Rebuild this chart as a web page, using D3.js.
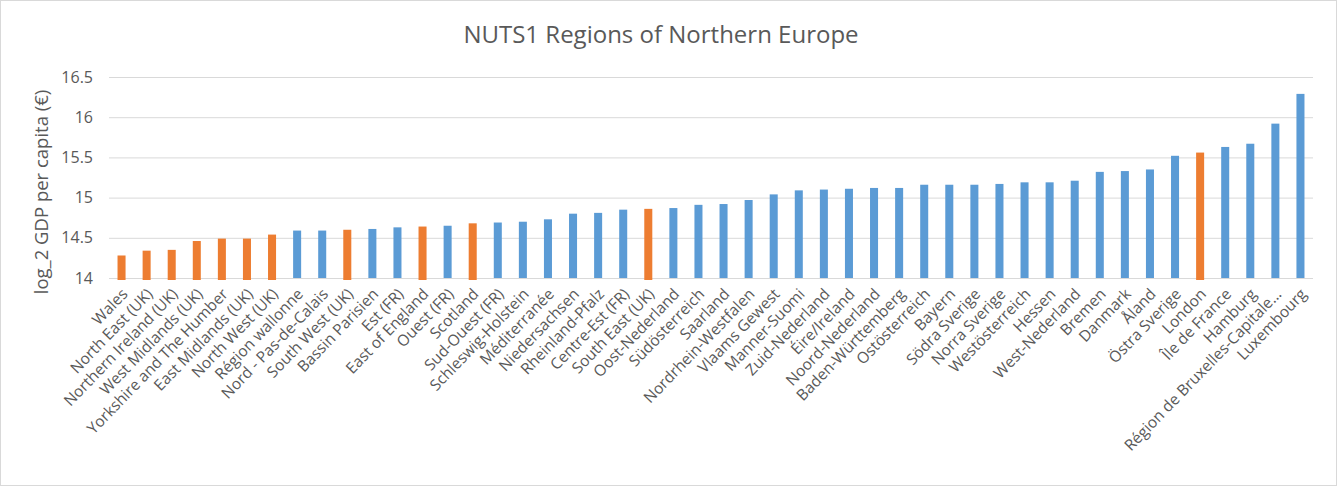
<!DOCTYPE html>
<html>
<head>
<meta charset="utf-8">
<script src="https://cdn.jsdelivr.net/npm/d3@7"></script>
<style>
  html, body { margin: 0; padding: 0; background: #fff; }
  svg { display: block; }
  svg text { font-family: "Open Sans", "Noto Sans", sans-serif; }
  .tick text { fill: #595959; }
</style>
</head>
<body>
<div id="chart"></div>
<script>
// regions, sorted by value
const regions = [
  "Wales", "North East (UK)", "Northern Ireland (UK)", "West Midlands (UK)",
  "Yorkshire and The Humber", "East Midlands (UK)", "North West (UK)",
  "Région wallonne", "Nord - Pas-de-Calais", "South West (UK)", "Bassin Parisien",
  "Est (FR)", "East of England", "Ouest (FR)", "Scotland", "Sud-Ouest (FR)",
  "Schleswig-Holstein", "Méditerranée", "Niedersachsen", "Rheinland-Pfalz",
  "Centre-Est (FR)", "South East (UK)", "Oost-Nederland", "Südösterreich",
  "Saarland", "Nordrhein-Westfalen", "Vlaams Gewest", "Manner-Suomi",
  "Zuid-Nederland", "Éire/Ireland", "Noord-Nederland", "Baden-Württemberg",
  "Ostösterreich", "Bayern", "Södra Sverige", "Norra Sverige", "Westösterreich",
  "Hessen", "West-Nederland", "Bremen", "Danmark", "Åland", "Östra Sverige",
  "London", "Île de France", "Hamburg", "Région de Bruxelles-Capitale...", "Luxembourg"
];

// log_2 GDP per capita
const gdpLog2 = [
  14.28, 14.34, 14.35, 14.46, 14.49, 14.49, 14.54, 14.59, 14.59, 14.60, 14.61,
  14.63, 14.64, 14.65, 14.68, 14.69, 14.70, 14.73, 14.80, 14.81, 14.85, 14.86,
  14.87, 14.91, 14.92, 14.97, 15.04, 15.09, 15.10, 15.11, 15.12, 15.12, 15.16,
  15.16, 15.16, 15.17, 15.19, 15.19, 15.21, 15.32, 15.33, 15.35, 15.52, 15.56,
  15.63, 15.67, 15.92, 16.29
];

// UK regions are drawn as the highlighted (orange) series
const ukRegions = [
  "Wales", "North East (UK)", "Northern Ireland (UK)", "West Midlands (UK)",
  "Yorkshire and The Humber", "East Midlands (UK)", "North West (UK)",
  "South West (UK)", "East of England", "Scotland", "South East (UK)", "London"
];

const yTicks = [14, 14.5, 15, 15.5, 16, 16.5];

const W = 1337, H = 486;
const FONT = '"Open Sans", "Noto Sans", sans-serif';
const data = regions.map((r, i) => ({ region: r, value: gdpLog2[i], uk: ukRegions.includes(r) }));

const svg = d3.select("#chart").append("svg")
  .attr("width", W)
  .attr("height", H);

// chart frame
svg.append("rect")
  .attr("x", 0.5).attr("y", 0.5)
  .attr("width", W - 1).attr("height", H - 1)
  .attr("fill", "#fff")
  .attr("stroke", "#d9d9d9");

const x = d3.scaleBand()
  .domain(regions)
  .range([109, 1313])
  .paddingInner(0.68)
  .paddingOuter(0.34);

const y = d3.scaleLinear()
  .domain([14, 16.5])
  .range([278, 77]);

// gridlines + tick labels
const yAxis = svg.append("g")
  .attr("transform", `translate(${x.range()[0]},0)`)
  .call(d3.axisLeft(y).tickValues(yTicks).tickSize(-(x.range()[1] - x.range()[0])).tickPadding(16)
    .tickFormat(d => d3.format("")(d)))
  .attr("font-family", FONT)
  .attr("font-size", 16);
yAxis.select(".domain").remove();
yAxis.selectAll(".tick line").attr("stroke", "#d9d9d9");

// bars
svg.append("g").selectAll("rect")
  .data(data)
  .join("rect")
    .attr("x", d => x(d.region))
    .attr("width", x.bandwidth())
    .attr("y", d => y(d.value))
    .attr("height", d => y(14) - y(d.value) + (d.uk ? 2 : 0))
    .attr("fill", d => d.uk ? "#ED7D31" : "#5B9BD5");

// category labels
const xAxis = svg.append("g")
  .attr("transform", `translate(0,${y(14)})`)
  .call(d3.axisBottom(x).tickSize(0).tickPadding(0))
  .attr("font-family", FONT)
  .attr("font-size", 15.5);
xAxis.select(".domain").remove();
xAxis.selectAll(".tick text")
  .attr("text-anchor", "end")
  .attr("dy", 0)
  .attr("transform", "translate(7,17) rotate(-46)");

// title
svg.append("text")
  .attr("x", 661)
  .attr("y", 43)
  .attr("text-anchor", "middle")
  .attr("font-size", 24)
  .attr("fill", "#595959")
  .text("NUTS1 Regions of Northern Europe");

// y axis title
svg.append("text")
  .attr("transform", "translate(48,192) rotate(-90)")
  .attr("text-anchor", "middle")
  .attr("font-size", 18.5)
  .attr("fill", "#595959")
  .text("log_2 GDP per capita (€)");
</script>
</body>
</html>
